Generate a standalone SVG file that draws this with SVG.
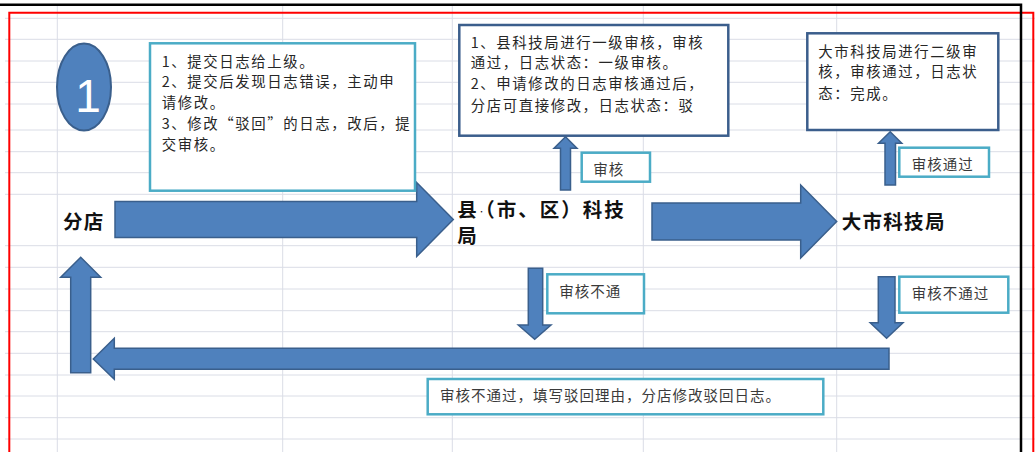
<svg xmlns="http://www.w3.org/2000/svg" width="1035" height="452" viewBox="0 0 1035 452">
<style>
.grid line{stroke:#DADDE6;stroke-width:1}
.arrow{fill:#4F81BD;stroke:#3A5F8C;stroke-width:1.5;stroke-linejoin:miter}
.lbox{fill:#FFFFFF;stroke:#4BACC6;stroke-width:2.5}
.dbox{fill:#FFFFFF;stroke:#3B5E8C;stroke-width:2.5}
.desc{font-family:"Noto Sans CJK SC","Noto Sans",sans-serif;font-size:14.4px;letter-spacing:1.6px;fill:#262626}
.lbl{font-family:"Noto Sans CJK SC","Noto Sans",sans-serif;font-size:14.5px;letter-spacing:1px;fill:#3A3A3A}
.big{font-family:"Noto Sans CJK SC","Noto Sans",sans-serif;font-size:19.5px;letter-spacing:1.3px;font-weight:bold;fill:#111111}
</style>
<rect x="0" y="0" width="1035" height="452" fill="#FFFFFF"/>
<g class="grid">
<line x1="5" y1="18.3" x2="1035" y2="18.3"/>
<line x1="5" y1="39.3" x2="1035" y2="39.3"/>
<line x1="5" y1="61" x2="1035" y2="61"/>
<line x1="5" y1="82.3" x2="1035" y2="82.3"/>
<line x1="5" y1="104" x2="1035" y2="104"/>
<line x1="5" y1="130" x2="1035" y2="130"/>
<line x1="5" y1="151.7" x2="1035" y2="151.7"/>
<line x1="5" y1="172.7" x2="1035" y2="172.7"/>
<line x1="5" y1="194.3" x2="1035" y2="194.3"/>
<line x1="5" y1="245.7" x2="1035" y2="245.7"/>
<line x1="5" y1="267.3" x2="1035" y2="267.3"/>
<line x1="5" y1="289" x2="1035" y2="289"/>
<line x1="5" y1="310.7" x2="1035" y2="310.7"/>
<line x1="5" y1="331.7" x2="1035" y2="331.7"/>
<line x1="5" y1="353.3" x2="1035" y2="353.3"/>
<line x1="5" y1="375" x2="1035" y2="375"/>
<line x1="5" y1="396" x2="1035" y2="396"/>
<line x1="5" y1="417.7" x2="1035" y2="417.7"/>
<line x1="5" y1="439" x2="1035" y2="439"/>
<line x1="57.3" y1="5" x2="57.3" y2="452"/>
<line x1="282.7" y1="5" x2="282.7" y2="452"/>
<line x1="452.3" y1="5" x2="452.3" y2="452"/>
<line x1="643.3" y1="5" x2="643.3" y2="452"/>
<line x1="836.7" y1="5" x2="836.7" y2="452"/>
</g>
<g id="borders" fill="none">
<polyline points="9.3,452 9.3,12.7 1033.3,12.7 1033.3,452" stroke="#FF0000" stroke-width="2"/>
<polyline points="0,4.7 1021,4.7 1021,452" stroke="#000000" stroke-width="2.5"/>
</g>
<g id="connectors">
<polygon class="arrow" points="115,201.5 416.7,201.5 416.7,182.5 453.3,219.5 416.7,256.5 416.7,237.5 115,237.5"/>
<polygon class="arrow" points="652,203 800.7,203 800.7,185 836.7,221.5 800.7,258 800.7,240 652,240"/>
<polygon class="arrow" points="560.5,190 560.5,148.3 554,148.3 565.5,136.7 577,148.3 570.5,148.3 570.5,190"/>
<polygon class="arrow" points="885,185 885,143.3 878.5,143.3 890.2,131.7 901.8,143.3 895.5,143.3 895.5,185"/>
<polygon class="arrow" points="528.3,268.3 542.7,268.3 542.7,325 551,325 534.7,339.3 518.3,325 528.3,325"/>
<polygon class="arrow" points="878.3,276.7 895,276.7 895,322.7 903,322.7 886.6,338.3 870.2,322.7 878.3,322.7"/>
<polygon class="arrow" points="889,348.3 889,369.3 114.3,369.3 114.3,379.3 93.3,359 114.3,338.3 114.3,348.3"/>
<polygon class="arrow" points="70.7,372.7 70.7,277.3 60.7,277.3 80.7,257.3 100.7,277.3 90.7,277.3 90.7,372.7"/>
</g>
<g id="step-badge">
<ellipse cx="84" cy="87" rx="27" ry="43.5" fill="#4F81BD" stroke="#3A5F8C" stroke-width="2"/>
<text x="88" y="112" text-anchor="middle" font-family="Liberation Sans, Arial, sans-serif" font-size="46" fill="#FFFFFF">1</text>
</g>
<g id="shop-desc">
<rect class="lbox" x="150" y="43.3" width="265" height="147.4"/>
<text class="desc" x="161.7" y="66.5">1、提交日志给上级。</text>
<text class="desc" x="161.7" y="87.3">2、提交后发现日志错误，主动申</text>
<text class="desc" x="161.7" y="108.3">请修改。</text>
<text class="desc" x="161.7" y="129.3">3、修改“驳回”的日志，改后，提</text>
<text class="desc" x="161.7" y="150">交审核。</text>
</g>
<g id="county-desc">
<rect class="dbox" x="459.3" y="25" width="269" height="110.7"/>
<text class="desc" x="470.7" y="47.5">1、县科技局进行一级审核，审核</text>
<text class="desc" x="470.7" y="68.2">通过，日志状态：一级审核。</text>
<text class="desc" x="470.7" y="89.3">2、申请修改的日志审核通过后，</text>
<text class="desc" x="470.7" y="110.8">分店可直接修改，日志状态：驳</text>
</g>
<g id="city-desc">
<rect class="dbox" x="807.3" y="33.3" width="191" height="96.7"/>
<text class="desc" x="818.3" y="56.5">大市科技局进行二级审</text>
<text class="desc" x="818.3" y="77.3">核，审核通过，日志状</text>
<text class="desc" x="818.3" y="98.5">态：完成。</text>
</g>
<g id="shop">
<text class="big" x="63" y="229">分店</text>
</g>
<g id="county">
<text class="big" x="457.3" y="216.5">县<tspan font-size="7px" font-weight="normal" letter-spacing="0" dy="-2.5">·</tspan><tspan letter-spacing="2px" dy="2.5">（市、区）科技</tspan></text>
<text class="big" x="457.3" y="242.8">局</text>
</g>
<g id="city">
<text class="big" x="841.7" y="228.8">大市科技局</text>
</g>
<g id="label-review">
<rect class="lbox" x="581.7" y="152.7" width="68.3" height="29"/>
<text class="lbl" x="593.3" y="174.5">审核</text>
</g>
<g id="label-pass">
<rect class="lbox" x="899.3" y="147.7" width="89.7" height="29"/>
<text class="lbl" x="911.7" y="169.5">审核通过</text>
</g>
<g id="label-fail1">
<rect class="lbox" x="547.3" y="274.3" width="96.7" height="39"/>
<text class="lbl" x="559.3" y="297">审核不通</text>
</g>
<g id="label-fail2">
<rect class="lbox" x="899.3" y="276.7" width="109" height="36"/>
<text class="lbl" x="911.7" y="299">审核不通过</text>
</g>
<g id="label-return">
<rect class="lbox" x="427.7" y="379" width="395.6" height="35.3"/>
<text class="lbl" x="440" y="401">审核不通过，填写驳回理由，分店修改驳回日志。</text>
</g>
</svg>
